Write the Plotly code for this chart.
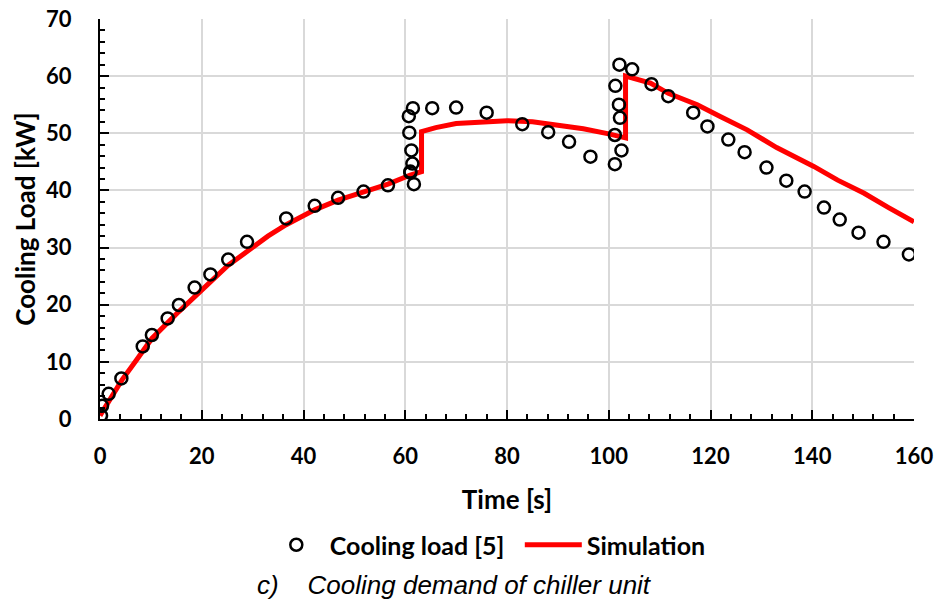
import plotly.graph_objects as go

# Measured cooling load [5]
meas_t = [0.2, 0.4, 1.7, 4.2, 8.4, 10.2, 13.3, 15.5, 18.6, 21.7, 25.2, 28.9, 36.6, 42.2, 46.8,
          51.8, 56.6, 61.0, 61.7, 61.0, 61.4, 61.2, 60.8, 60.7, 61.5, 65.3, 70.0, 76.0, 83.0,
          88.1, 92.2, 96.4, 101.2, 101.2, 102.5, 102.2, 102.0, 101.3, 102.1, 104.6, 108.4,
          111.7, 116.6, 119.4, 123.5, 126.7, 131.0, 134.9, 138.5, 142.3, 145.4, 149.1, 154.0, 159.0]
meas_L = [0.6, 2.3, 4.4, 7.1, 12.7, 14.7, 17.6, 19.95, 23.0, 25.3, 27.9, 31.0, 35.1, 37.3, 38.7,
          39.8, 40.9, 43.1, 41.1, 43.3, 44.7, 47.0, 50.1, 53.0, 54.4, 54.4, 54.5, 53.6, 51.6,
          50.2, 48.5, 45.9, 49.7, 44.6, 47.0, 52.7, 55.0, 58.3, 62.0, 61.2, 58.6,
          56.5, 53.6, 51.2, 48.9, 46.7, 44.0, 41.7, 39.8, 37.0, 34.9, 32.6, 31.0, 28.8]

# Simulation
sim_t = [0, 2, 4.3, 7, 10.2, 15.5, 20, 25.2, 28.9, 33, 36.6, 42.2, 46.8, 51.8, 56.6, 61, 63.2,
         63.2, 66, 70, 75, 80, 85, 90, 95, 100, 103.3, 103.3, 108.2, 111.7, 117.4, 122, 127.2,
         133, 140.3, 145, 150.2, 155, 160]
sim_L = [0.6, 3.6, 6.8, 10.1, 14.1, 18.8, 22.6, 26.9, 29.3, 32.0, 34.0, 36.6, 38.3, 39.7, 41.1,
         42.7, 43.3, 50.3, 51.0, 51.7, 52.0, 52.2, 52.0, 51.4, 50.8, 49.9, 49.2, 60.0, 58.8,
         57.0, 55.0, 52.9, 50.6, 47.5, 44.2, 41.8, 39.5, 37.0, 34.5]

x_ticks = [0, 20, 40, 60, 80, 100, 120, 140, 160]
y_ticks = [0, 10, 20, 30, 40, 50, 60, 70]

FONT = "Lato"

fig = go.Figure()
fig.add_trace(go.Scatter(x=sim_t, y=sim_L, mode="lines", name="Simulation",
                         line=dict(color="#FF0000", width=5), legendrank=2))
fig.add_trace(go.Scatter(x=meas_t, y=meas_L, mode="markers", name="Cooling load [5]",
                         marker=dict(symbol="circle-open", size=12, color="black",
                                     line=dict(color="black", width=2.5)),
                         legendrank=1))

axis_common = dict(
    showline=True, linecolor="black", linewidth=2, mirror=False,
    showgrid=True, gridcolor="#D9D9D9", gridwidth=1.5,
    ticks="inside", ticklen=9, tickwidth=2, tickcolor="black",
    tickfont=dict(family=FONT, size=22, color="black", weight="bold"),
    zeroline=False, automargin=False,
)

fig.update_xaxes(range=[0, 160], tickvals=x_ticks, ticklabelstandoff=17,
                 minor=dict(dtick=4, ticks="inside", ticklen=5, tickwidth=2,
                            tickcolor="black", showgrid=False),
                 title=dict(text="Time [s]", font=dict(family=FONT, size=26, color="black",
                                                       weight="bold"), standoff=22),
                 **axis_common)
fig.update_yaxes(range=[0, 70], tickvals=y_ticks, ticklabelstandoff=22,
                 minor=dict(dtick=2, ticks="inside", ticklen=5, tickwidth=2,
                            tickcolor="black", showgrid=False),
                 title=dict(text="Cooling Load [kW]", font=dict(family=FONT, size=26,
                                                                color="black", weight="bold"),
                            standoff=3),
                 **axis_common)

fig.update_layout(
    width=939, height=604,
    margin=dict(l=100, r=25, t=19, b=185),
    plot_bgcolor="white", paper_bgcolor="white",
    showlegend=True,
    legend=dict(orientation="h", x=0.2, xanchor="left", y=-0.315, yanchor="middle",
                font=dict(family=FONT, size=25, color="black", weight="bold"),
                itemwidth=57, entrywidth=185, traceorder="normal"),
    annotations=[dict(text="c)\u00a0\u00a0\u00a0\u00a0Cooling demand of chiller unit",
                      xref="paper", yref="paper", x=0.19, y=-0.414, xanchor="left",
                      yanchor="middle", showarrow=False,
                      font=dict(family="Liberation Sans", size=26, color="black",
                                style="italic"))],
)

fig.write_html("out.html")
